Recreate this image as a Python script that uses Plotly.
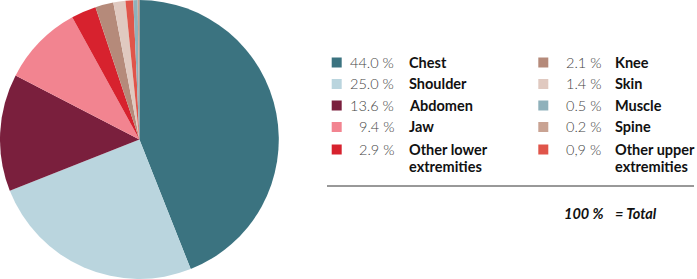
import plotly.graph_objects as go

categories = ["Chest", "Shoulder", "Abdomen", "Jaw", "Other lower extremities",
              "Knee", "Skin", "Other upper extremities", "Muscle", "Spine"]
values = [44.0, 25.0, 13.6, 9.4, 2.9, 2.1, 1.4, 0.9, 0.5, 0.2]
colors = ["#3b7380", "#bad5de", "#7a1f3d", "#f28490", "#d7222e",
          "#b58a7a", "#e0c9c0", "#e0554a", "#8fb1bb", "#c9a393"]

# legend layout (two columns)
legend_col1 = ["Chest", "Shoulder", "Abdomen", "Jaw", "Other lower extremities"]
legend_col2 = ["Knee", "Skin", "Muscle", "Spine", "Other upper extremities"]
pct_labels = {"Chest": "44.0 %", "Shoulder": "25.0 %", "Abdomen": "13.6 %", "Jaw": "9.4 %",
              "Other lower extremities": "2.9 %", "Knee": "2.1 %", "Skin": "1.4 %",
              "Muscle": "0.5 %", "Spine": "0.2 %", "Other upper extremities": "0,9 %"}
display_lines = {"Other lower extremities": ["Other lower", "extremities"],
                 "Other upper extremities": ["Other upper", "extremities"]}
total_label = "100 %"
total_text = "= Total"

W, H = 697, 279
FONT = "Lato, 'Open Sans', sans-serif"
FS = 14.5

fig = go.Figure(go.Pie(
    labels=categories, values=values, sort=False, direction="clockwise", rotation=0,
    marker=dict(colors=colors, line=dict(width=0)),
    textinfo="none", hoverinfo="none", showlegend=False,
    domain=dict(x=[0, 278.8 / W], y=[0, 1]),
))

def px(x):
    return x / W

def py(y):
    return 1 - y / H

shapes = []
annotations = []
row_y = [62.5, 84, 105.5, 127, 149.5]
cols = [(legend_col1, 336.7, 396, 406.5), (legend_col2, 543.3, 603, 613)]
for names, sw_x, pct_x, lab_x in cols:
    for i, name in enumerate(names):
        y = row_y[i]
        col = colors[categories.index(name)]
        shapes.append(dict(type="rect", xref="paper", yref="paper",
                           x0=px(sw_x - 5), x1=px(sw_x + 5), y0=py(y + 5), y1=py(y - 5),
                           fillcolor=col, line=dict(width=0)))
        annotations.append(dict(x=px(pct_x), y=py(y), xref="paper", yref="paper",
                                xanchor="right", yanchor="middle", showarrow=False,
                                text=pct_labels[name],
                                font=dict(family=FONT, size=FS, color="#444444", weight=300)))
        lines = display_lines.get(name, [name])
        for j, line in enumerate(lines):
            annotations.append(dict(x=px(lab_x), y=py(y + j * 17), xref="paper", yref="paper",
                                    xanchor="left", yanchor="middle", showarrow=False,
                                    text="<b>" + line + "</b>",
                                    font=dict(family=FONT, size=FS, color="#111111")))

shapes.append(dict(type="line", xref="paper", yref="paper",
                   x0=px(327), x1=px(694), y0=py(186), y1=py(186),
                   line=dict(color="#333333", width=1)))
annotations.append(dict(x=px(605), y=py(213), xref="paper", yref="paper",
                        xanchor="right", yanchor="middle", showarrow=False,
                        text="<b><i>" + total_label + "</i></b>",
                        font=dict(family=FONT, size=FS, color="#111111")))
annotations.append(dict(x=px(613), y=py(213), xref="paper", yref="paper",
                        xanchor="left", yanchor="middle", showarrow=False,
                        text="<b><i>" + total_text + "</i></b>",
                        font=dict(family=FONT, size=FS, color="#111111")))

fig.update_layout(width=W, height=H, margin=dict(l=0, r=0, t=0, b=0),
                  paper_bgcolor="white", plot_bgcolor="white",
                  shapes=shapes, annotations=annotations)
fig.write_html("out.html", config={"displayModeBar": False},
               post_script="document.body.style.margin='0';document.body.style.overflow='hidden';")
